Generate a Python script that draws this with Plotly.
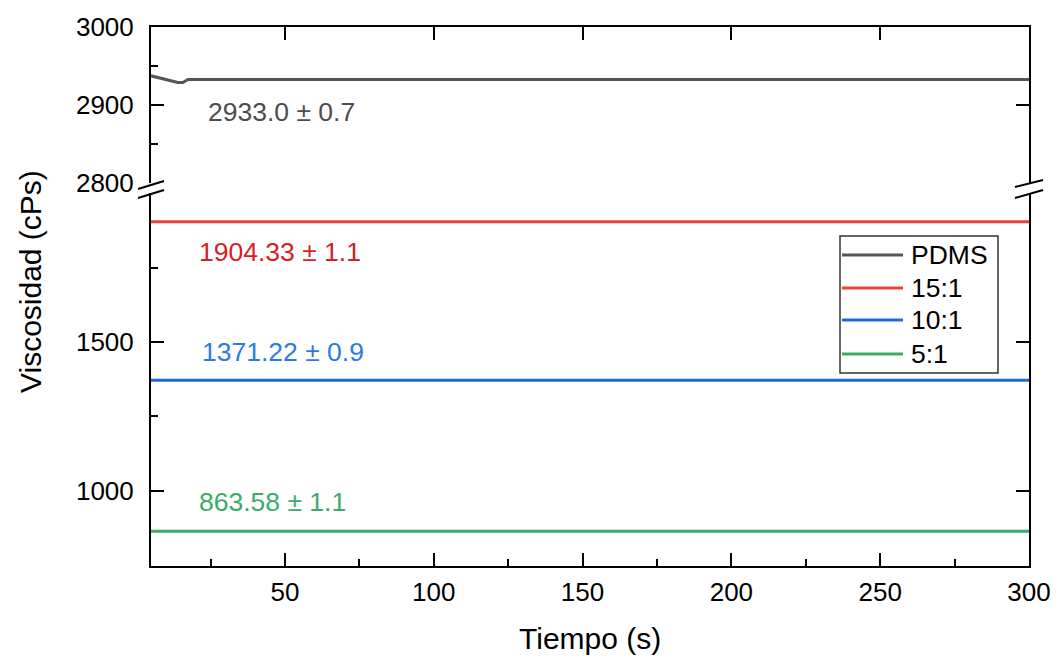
import plotly.graph_objects as go

# ---------------- data ----------------
series_names = ["PDMS", "15:1", "10:1", "5:1"]
line_colors = ["#555555", "#E8423F", "#1F68DA", "#3DAA6A"]
text_colors = ["#4D4D4D", "#D81E1E", "#2B7BE4", "#3BAA6B"]

pdms_t = [5, 14, 15.7, 17.4, 300]
pdms_v = [2937.2, 2928.6, 2928.6, 2932.5, 2932.5]

t_15 = [5, 300]
v_15 = [1904.33, 1904.33]
t_10 = [5, 300]
v_10 = [1371.22, 1371.22]
t_5 = [5, 300]
v_5 = [863.58, 863.58]

labels = ["2933.0 ± 0.7", "1904.33 ± 1.1", "1371.22 ± 0.9", "863.58 ± 1.1"]
label_x = [48.7, 48.2, 49.3, 45.8]
label_y = [2891, 1801, 1465, 963]

x_range = [5, 300]
x_major = [50, 100, 150, 200, 250, 300]
x_minor = [25, 75, 125, 175, 225, 275]
low_range = [747, 2000]
low_major = [1000, 1500]
low_minor = [1250, 1750]
up_range = [2800, 3000]
up_major = [2800, 2900, 3000]
up_minor = [2850, 2950]

# ---------------- layout geometry (pixels) ----------------
W, H = 1056, 656
L, R, T, B = 151, 1029, 27, 566
pw, ph = R - L, B - T


def px(x):
    return (x - L) / pw


def py(y):
    return (B - y) / ph


low_dom = [0, py(193.3)]
up_dom = [py(182.5), 1]

FONT = "Liberation Sans, Arial, sans-serif"
TICKF = dict(family=FONT, size=26, color="black")

fig = go.Figure()
fig.add_trace(go.Scatter(x=pdms_t, y=pdms_v, mode="lines", name=series_names[0],
                         line=dict(color=line_colors[0], width=3),
                         xaxis="x2", yaxis="y2", showlegend=False))
for t, v, n, c in [(t_15, v_15, series_names[1], line_colors[1]),
                   (t_10, v_10, series_names[2], line_colors[2]),
                   (t_5, v_5, series_names[3], line_colors[3])]:
    fig.add_trace(go.Scatter(x=t, y=v, mode="lines", name=n,
                             line=dict(color=c, width=3),
                             xaxis="x", yaxis="y", showlegend=False))

axis_common = dict(showgrid=False, zeroline=False, showline=True,
                   linecolor="black", linewidth=2, ticks="inside",
                   tickcolor="black", tickwidth=2, ticklen=13,
                   automargin=False)

fig.update_layout(
    width=W, height=H,
    margin=dict(l=L, r=W - R, t=T, b=H - B, autoexpand=False),
    paper_bgcolor="white", plot_bgcolor="white",
    showlegend=False,
    xaxis=dict(**axis_common, range=x_range, domain=[0, 1], anchor="y",
               tickmode="array", tickvals=x_major, tickfont=TICKF,
               ticklabelstandoff=2,
               minor=dict(tickvals=x_minor, ticks="inside", ticklen=7,
                          tickwidth=2, tickcolor="black")),
    xaxis2=dict(**axis_common, range=x_range, domain=[0, 1], anchor="y2",
                side="top", matches="x", tickmode="array", tickvals=x_major,
                showticklabels=False),
    yaxis=dict(**axis_common, range=low_range, domain=low_dom, anchor="x",
               mirror=True, tickmode="array", tickvals=low_major,
               tickfont=TICKF, ticklabelstandoff=10,
               minor=dict(tickvals=low_minor, ticks="inside", ticklen=7,
                          tickwidth=2, tickcolor="black")),
    yaxis2=dict(**axis_common, range=up_range, domain=up_dom, anchor="x2",
                mirror=True, tickmode="array", tickvals=up_major,
                tickfont=TICKF, ticklabelstandoff=10,
                minor=dict(tickvals=up_minor, ticks="inside", ticklen=7,
                           tickwidth=2, tickcolor="black")),
    yaxis3=dict(range=low_range, overlaying="y", side="right", anchor="x",
                showgrid=False, zeroline=False, showline=False,
                ticks="inside", tickmode="array", tickvals=low_major,
                ticklen=13, tickwidth=2, tickcolor="black",
                showticklabels=False, automargin=False),
    yaxis4=dict(range=up_range, overlaying="y2", side="right", anchor="x2",
                showgrid=False, zeroline=False, showline=False,
                ticks="inside", tickmode="array", tickvals=up_major,
                ticklen=13, tickwidth=2, tickcolor="black",
                showticklabels=False, automargin=False),
)

# invisible traces so the right-side tick axes are drawn
fig.add_trace(go.Scatter(x=[None], y=[None], xaxis="x", yaxis="y3",
                         showlegend=False, hoverinfo="skip"))
fig.add_trace(go.Scatter(x=[None], y=[None], xaxis="x2", yaxis="y4",
                         showlegend=False, hoverinfo="skip"))

# value labels
for i, (txt, lx, ly) in enumerate(zip(labels, label_x, label_y)):
    if i == 0:
        xr, yr = "x2", "y2"
    else:
        xr, yr = "x", "y"
    fig.add_annotation(x=lx, y=ly, xref=xr, yref=yr, text=txt,
                       showarrow=False, xanchor="center", yanchor="middle",
                       font=dict(family=FONT, size=26.5, color=text_colors[i]))

# axis titles
fig.add_annotation(x=px(590), y=py(638), xref="paper", yref="paper",
                   text="Tiempo (s)", showarrow=False, xanchor="center",
                   yanchor="middle", font=dict(family=FONT, size=30, color="black"))
fig.add_annotation(x=px(30), y=py(282), xref="paper", yref="paper",
                   text="Viscosidad (cPs)", showarrow=False, textangle=-90,
                   xanchor="center", yanchor="middle",
                   font=dict(family=FONT, size=30, color="black"))

# axis break marks
for (x0, y0, x1, y1) in [(138, 189, 164, 181), (138, 198, 164, 190),
                         (1015, 187, 1043, 180), (1015, 198, 1043, 190)]:
    fig.add_shape(type="line", xref="paper", yref="paper",
                  x0=px(x0), y0=py(y0), x1=px(x1), y1=py(y1),
                  line=dict(color="black", width=2))

# custom legend
fig.add_shape(type="rect", xref="paper", yref="paper",
              x0=px(840), x1=px(998), y0=py(373), y1=py(236),
              line=dict(color="#333333", width=1.5), fillcolor="white", layer="above")
leg_y = [255, 288, 320, 354]
for n, c, yy in zip(series_names, line_colors, leg_y):
    fig.add_shape(type="line", xref="paper", yref="paper",
                  x0=px(842), x1=px(903), y0=py(yy), y1=py(yy),
                  line=dict(color=c, width=3), layer="above")
    fig.add_annotation(x=px(909), y=py(yy), xref="paper", yref="paper",
                       text=n, showarrow=False, xanchor="left", yanchor="middle",
                       font=dict(family=FONT, size=26.5, color="black"))

fig.write_html("out.html")
